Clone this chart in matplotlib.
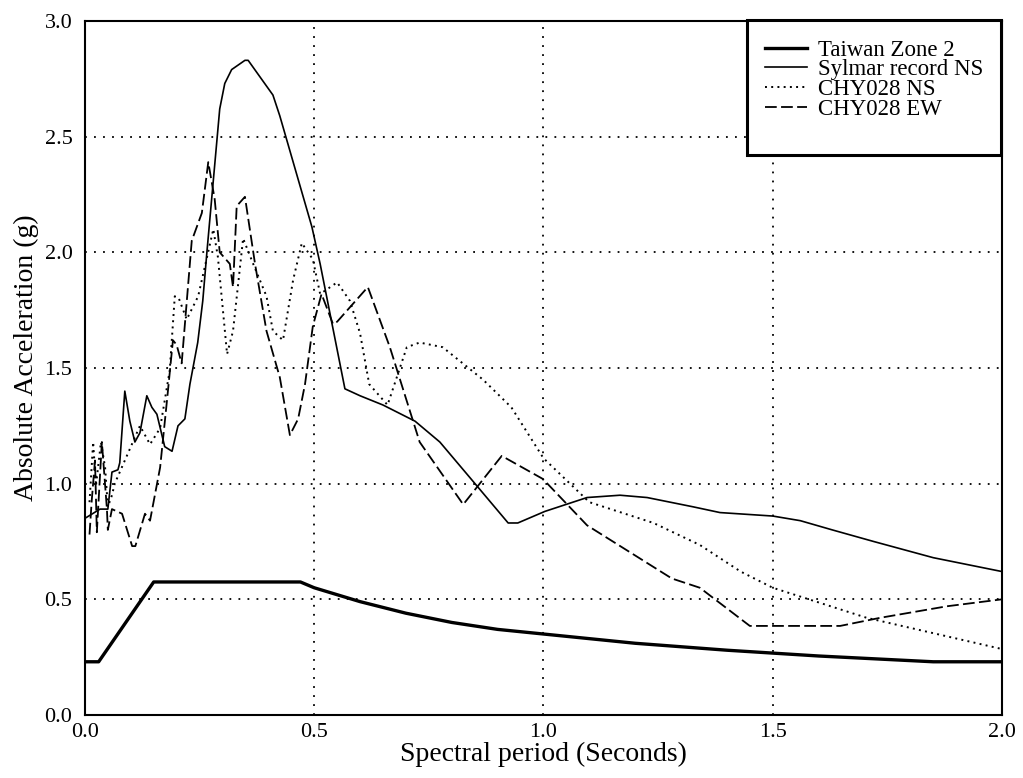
import matplotlib.pyplot as plt
from matplotlib.patches import Rectangle
import numpy as np

plt.rcParams['font.family'] = ['Liberation Serif', 'DejaVu Serif']

# Taiwan Zone 2 design spectrum
tw_t = [0.0, 0.03, 0.15, 0.47, 0.5, 0.6, 0.7, 0.8, 0.9, 1.0, 1.2, 1.4, 1.6, 1.8, 1.85, 2.0]
tw_a = [0.23, 0.23, 0.575, 0.575, 0.55, 0.49, 0.44, 0.40, 0.37, 0.35, 0.31, 0.28, 0.255, 0.235, 0.23, 0.23]

# Sylmar record NS
syl_t = [0.0, 0.033, 0.05, 0.059, 0.072, 0.076, 0.087, 0.098, 0.109, 0.12, 0.135, 0.146,
         0.157, 0.174, 0.19, 0.203, 0.218, 0.229, 0.246, 0.257, 0.266, 0.294, 0.305, 0.32,
         0.349, 0.356, 0.41, 0.425, 0.495, 0.513, 0.567, 0.6, 0.65, 0.72, 0.774, 0.855,
         0.923, 0.944, 1.003, 1.095, 1.167, 1.226, 1.326, 1.385, 1.5, 1.56, 1.63, 1.72, 1.85, 2.0]
syl_a = [0.85, 0.89, 0.89, 1.05, 1.06, 1.09, 1.40, 1.27, 1.18, 1.22, 1.38, 1.33,
         1.30, 1.16, 1.14, 1.25, 1.28, 1.43, 1.61, 1.79, 2.0, 2.62, 2.73, 2.79,
         2.83, 2.83, 2.68, 2.59, 2.11, 1.95, 1.41, 1.38, 1.34, 1.27, 1.18, 0.99,
         0.83, 0.83, 0.88, 0.94, 0.95, 0.94, 0.90, 0.875, 0.86, 0.84, 0.80, 0.75, 0.68, 0.62]

# CHY028 NS
ns_t = [0.01, 0.018, 0.024, 0.035, 0.044, 0.05, 0.059, 0.065, 0.087, 0.12, 0.142, 0.164,
        0.185, 0.196, 0.205, 0.222, 0.247, 0.28, 0.29, 0.31, 0.323, 0.345, 0.367, 0.396,
        0.41, 0.432, 0.454, 0.473, 0.497, 0.513, 0.55, 0.578, 0.6, 0.62, 0.66, 0.702,
        0.73, 0.78, 0.868, 0.93, 1.0, 1.1, 1.24, 1.341, 1.43, 1.5, 1.705, 2.0]
ns_a = [0.92, 1.18, 0.99, 1.18, 1.07, 0.90, 0.95, 1.0, 1.10, 1.25, 1.17, 1.24,
        1.49, 1.81, 1.80, 1.71, 1.81, 2.10, 1.98, 1.56, 1.66, 2.06, 1.95, 1.81,
        1.66, 1.62, 1.88, 2.04, 1.97, 1.82, 1.87, 1.79, 1.65, 1.43, 1.34, 1.59,
        1.61, 1.59, 1.45, 1.33, 1.11, 0.92, 0.83, 0.735, 0.62, 0.55, 0.42, 0.285]

# CHY028 EW
ew_t = [0.01, 0.015, 0.022, 0.026, 0.037, 0.048, 0.05, 0.059, 0.081, 0.103, 0.11, 0.131,
        0.142, 0.164, 0.179, 0.192, 0.2, 0.211, 0.233, 0.255, 0.269, 0.283, 0.294, 0.316,
        0.323, 0.331, 0.349, 0.371, 0.396, 0.425, 0.447, 0.465, 0.48, 0.497, 0.516, 0.541,
        0.55, 0.617, 0.665, 0.73, 0.825, 0.909, 0.999, 1.095, 1.28, 1.341, 1.45, 1.647,
        1.734, 1.88, 2.0]
ew_a = [0.78, 0.93, 1.10, 0.79, 1.18, 0.89, 0.80, 0.89, 0.87, 0.73, 0.73, 0.87,
        0.84, 1.07, 1.36, 1.62, 1.60, 1.52, 2.05, 2.17, 2.39, 2.23, 2.0, 1.95,
        1.85, 2.2, 2.24, 1.95, 1.66, 1.46, 1.21, 1.28, 1.43, 1.68, 1.82, 1.69,
        1.70, 1.85, 1.59, 1.18, 0.91, 1.12, 1.02, 0.82, 0.59, 0.55, 0.385, 0.385,
        0.42, 0.47, 0.50]

fig = plt.figure(figsize=(10.23, 7.78), dpi=100)
ax = fig.add_axes([0.083, 0.081, 0.8965, 0.892])

ax.plot(tw_t, tw_a, color='black', lw=2.4, label='Taiwan Zone 2')
ax.plot(syl_t, syl_a, color='black', lw=1.2, label='Sylmar record NS')
ax.plot(ns_t, ns_a, color='black', lw=1.4, ls=(0, (1, 2.2)), label='CHY028 NS')
ax.plot(ew_t, ew_a, color='black', lw=1.3, ls=(0, (6.5, 2.4)), label='CHY028 EW')

ax.set_xlim(0, 2.0)
ax.set_ylim(0, 3.0)
ax.set_xticks(np.arange(0, 2.01, 0.5))
ax.set_yticks(np.arange(0, 3.01, 0.5))
ax.xaxis.set_major_formatter(plt.FormatStrFormatter('%.1f'))
ax.yaxis.set_major_formatter(plt.FormatStrFormatter('%.1f'))
ax.tick_params(length=0, labelsize=16)
ax.tick_params(axis='x', pad=6)
ax.tick_params(axis='y', pad=9)
ax.grid(True, color='black', ls=(0, (1, 4)), lw=1.3)
for s in ax.spines.values():
    s.set_linewidth(1.5)

ax.set_xlabel('Spectral period (Seconds)', fontsize=20, labelpad=0)
ax.set_ylabel('Absolute Acceleration (g)', fontsize=20)
ax.yaxis.set_label_coords(-0.05, 0.515)

# legend box drawn separately (taller than the entries)
ax.add_patch(Rectangle((0.722, 0.807), 0.277, 0.194, transform=ax.transAxes,
                       facecolor='white', edgecolor='black', lw=2.2, zorder=5,
                       clip_on=False))
leg = ax.legend(loc='upper left', bbox_to_anchor=(0.7415, 0.973), fontsize=16.5,
                frameon=False, borderpad=0, borderaxespad=0, handlelength=1.83,
                handletextpad=0.48, labelspacing=-0.06)
leg.set_zorder(6)

fig.savefig('out.png', dpi=100)
